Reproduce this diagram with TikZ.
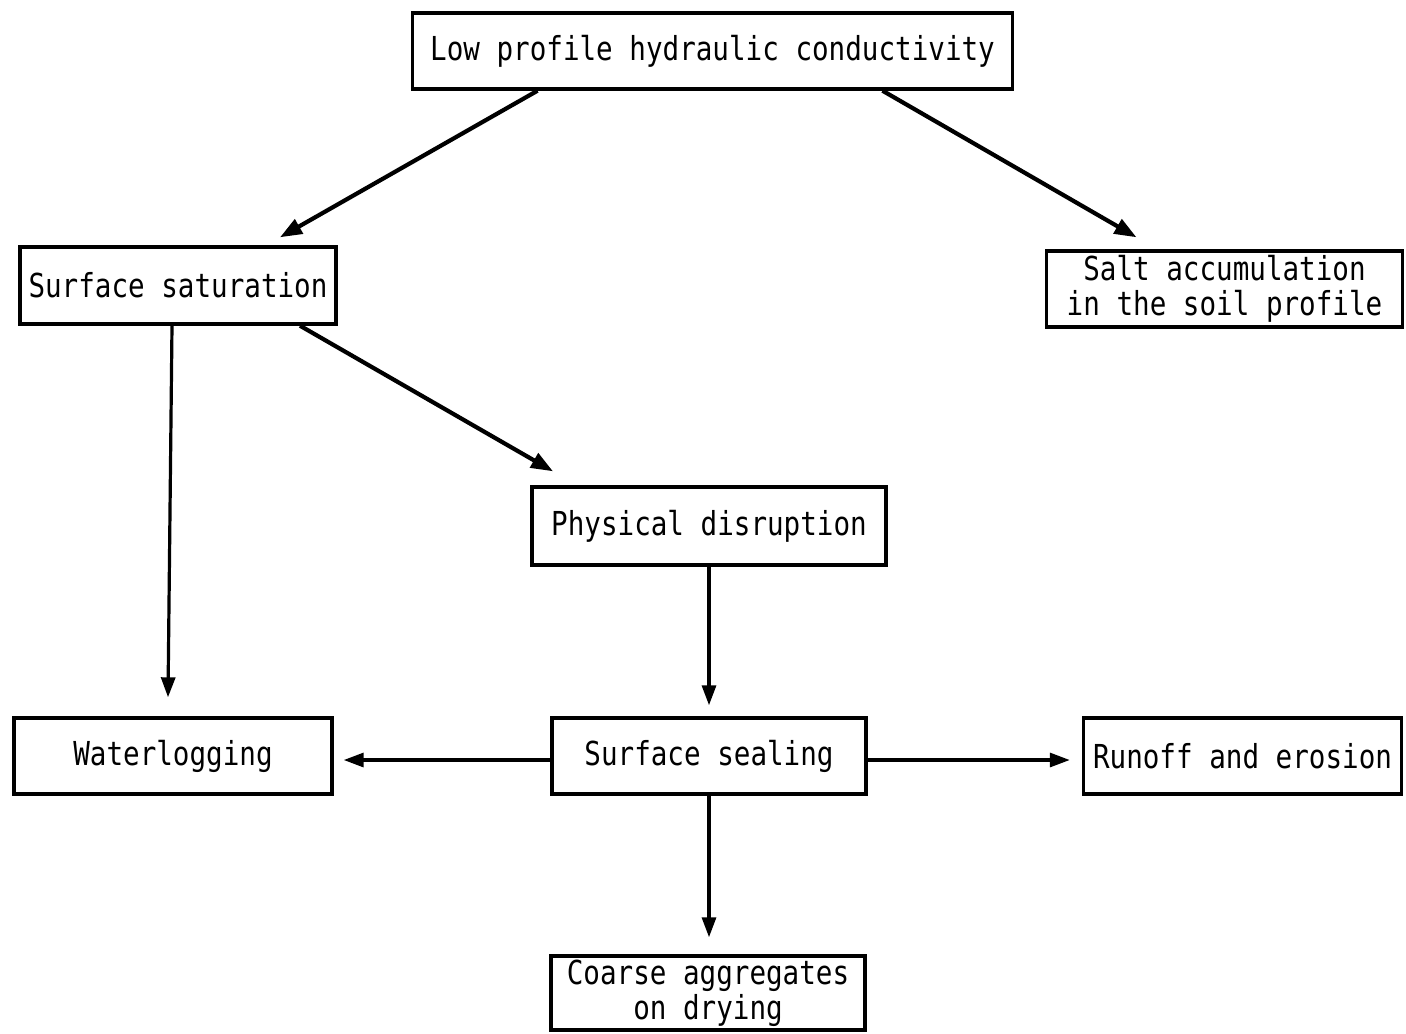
\documentclass[tikz,border=0pt]{standalone}
\usepackage{fontspec}
\newfontfamily\boxfont[FakeStretch=0.836]{DejaVu Sans Mono}
\usetikzlibrary{calc,arrows.meta}
\begin{document}
\begin{tikzpicture}[x=0.5pt,y=-0.5pt,
  bx/.style={draw,line width=1.7pt,rectangle,inner sep=0pt,align=center,
    font=\boxfont\fontsize{16.5}{17.3}\selectfont},
  arr/.style={line width=1.6pt,-{Triangle[length=10pt,width=7pt]}},
  darr/.style={line width=2.1pt,-{Triangle[length=11pt,width=8pt]}}]
\useasboundingbox (0,0) rectangle (1406,1033);
\node[bx,minimum width=300pt,minimum height=38pt] (top) at (712.5,51) {Low profile hydraulic conductivity};
\node[bx,minimum width=158pt,minimum height=38.5pt] (sat) at (178,285.5) {Surface saturation};
\node[bx,minimum width=178pt,minimum height=38pt] (salt) at (1224.5,289) {Salt accumulation\\in the soil profile};
\node[bx,minimum width=177pt,minimum height=39pt] (pd) at (709,526) {Physical disruption};
\node[bx,minimum width=159pt,minimum height=38pt] (wl) at (173,756) {Waterlogging};
\node[bx,minimum width=157pt,minimum height=38pt] (seal) at (709,756) {Surface sealing};
\node[bx,minimum width=159pt,minimum height=38pt] (run) at (1242.5,756) {Runoff and erosion};
\node[bx,minimum width=157pt,minimum height=37pt] (coarse) at (708,993) {Coarse aggregates\\on drying};
\draw[darr] ($(top.south)+(-175,0)$) -- ($(sat.north)+(102,-8)$);
\draw[darr] ($(top.south)+(170,0)$) -- ($(salt.north)+(-88,-12)$);
\draw[arr] ($(sat.south)+(-6,0)$) -- ($(wl.north)+(-5,-19)$);
\draw[darr] ($(sat.south)+(122,0)$) -- ($(pd.north)+(-156,-14)$);
\draw[arr] (pd.south) -- ($(seal.north)+(0,-11)$);
\draw[arr] ($(seal.west)+(0,4)$) -- ($(wl.east)+(10,4)$);
\draw[arr] ($(seal.east)+(0,4)$) -- ($(run.west)+(-12,4)$);
\draw[arr] (seal.south) -- ($(coarse.north)+(1,-17)$);
\end{tikzpicture}
\end{document}
